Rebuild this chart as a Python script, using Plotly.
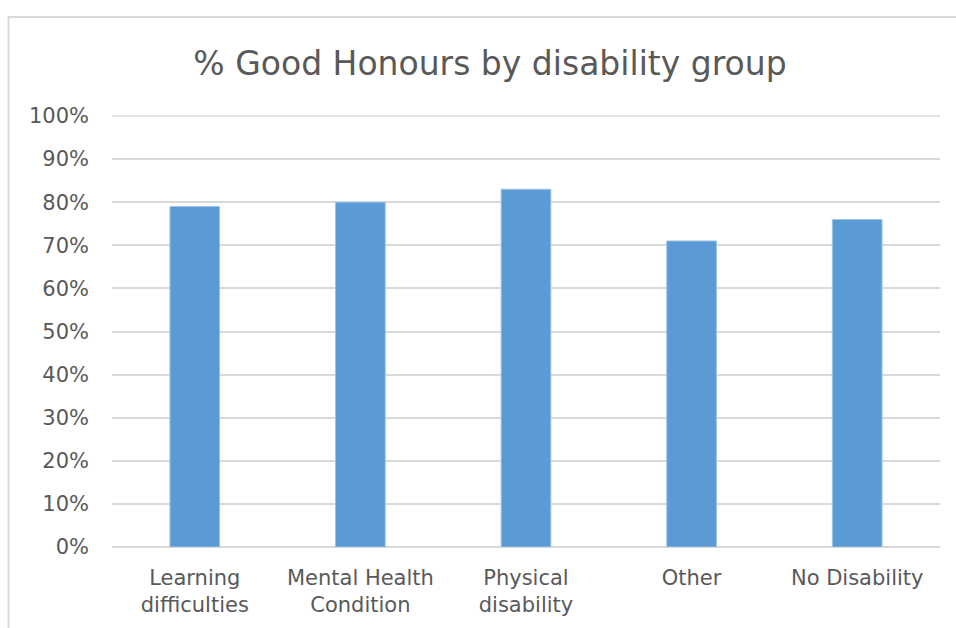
import plotly.graph_objects as go

categories = ["Learning<br>difficulties", "Mental Health<br>Condition", "Physical<br>disability", "Other", "No Disability"]
good_honours_pct = [79, 80, 83, 71, 76]
y_ticks = [0, 10, 20, 30, 40, 50, 60, 70, 80, 90, 100]
y_tick_labels = [f"{v}%" for v in y_ticks]

W, H = 956, 628
L, R, T, B = 112, 16, 116, 81
pw = W - L - R
ph = H - T - B

text_col = "#595959"
grid_col = "#d9d9d9"
font_family = "DejaVu Sans, sans-serif"

fig = go.Figure(go.Bar(
    x=categories,
    y=good_honours_pct,
    width=0.3,
    marker=dict(color="#5b9bd5", line=dict(color="#9dc3e6", width=1)),
))

# outer chart frame (extends past the right and bottom edges)
def px_x(p):
    return (p - L) / pw

def px_y(p):
    return (H - B - p) / ph

fig.add_shape(type="rect", xref="paper", yref="paper",
              x0=px_x(8.5), x1=px_x(970), y0=px_y(17), y1=px_y(640),
              line=dict(color=grid_col, width=2), fillcolor="rgba(0,0,0,0)")

# top gridline at the axis maximum (paper coords so it is not clipped)
y_max = y_ticks[-1]
fig.add_shape(type="line", xref="paper", yref="paper", x0=0, x1=1,
              y0=y_max / 100, y1=y_max / 100, layer="below",
              line=dict(color=grid_col, width=1.5))

fig.update_layout(
    width=W, height=H,
    margin=dict(l=L, r=R, t=T, b=B),
    paper_bgcolor="white", plot_bgcolor="white",
    showlegend=False,
    title=dict(text="% Good Honours by disability group",
               x=490 / W, xanchor="center", xref="container",
               y=1 - 63 / H, yanchor="middle", yref="container",
               font=dict(family=font_family, size=33, color=text_col)),
    font=dict(family=font_family, size=21, color=text_col),
    bargap=0.7,
)
fig.update_xaxes(showgrid=False, showline=False, ticks="", tickfont=dict(size=21, color=text_col),
                 ticklabelstandoff=16)
fig.update_yaxes(range=[0, y_max], tickvals=y_ticks, ticktext=y_tick_labels,
                 showgrid=True, gridcolor=grid_col, gridwidth=1.5,
                 zeroline=True, zerolinecolor=grid_col, zerolinewidth=1.5,
                 showline=False, ticks="", ticklabelstandoff=22,
                 tickfont=dict(size=21, color=text_col))

fig.write_html("out.html")
